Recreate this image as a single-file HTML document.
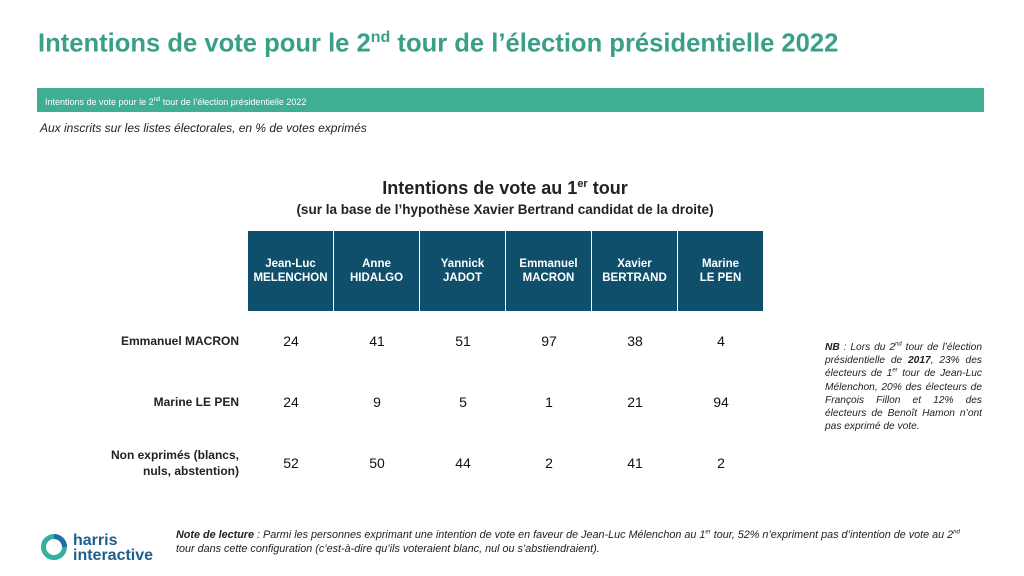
<!DOCTYPE html>
<html><head><meta charset="utf-8">
<style>
body{margin:0;width:1024px;height:576px;background:#fff;font-family:"Liberation Sans",Arial,sans-serif;position:relative;overflow:hidden}
.a{position:absolute}
#title{left:38px;top:29px;font-size:25.6px;font-weight:bold;color:#3a9f88;white-space:nowrap}
#title sup{font-size:16px}
#band{left:37px;top:88px;width:947px;height:24px;background:#3fae92;color:#fff;font-size:9px;line-height:24px;padding-left:8px;box-sizing:border-box}
#band sup{font-size:6px}
#sub{left:40px;top:121px;font-size:12px;font-style:italic;color:#222}
#ct{left:0;width:1010px;top:178px;text-align:center;font-size:18px;font-weight:bold;color:#222}
#ct sup{font-size:11px}
#cs{left:0;width:1010px;top:202px;text-align:center;font-size:13.5px;font-weight:bold;color:#222}
.hd{background:#0f4f6c;color:#fff;font-size:11.5px;font-weight:bold;text-align:center;height:80px;top:231px;display:flex;align-items:center;justify-content:center;line-height:14px;box-sizing:border-box;border-right:1px solid #fff}
.rl{right:785px;text-align:right;font-size:12px;font-weight:bold;color:#222;line-height:16px}
.v{font-size:14px;color:#111;text-align:center;width:86px}
#nb{left:825px;top:341px;width:157px;font-size:10.2px;font-style:italic;color:#222;line-height:13.2px;text-align:justify}
#nb sup{font-size:6px;line-height:0}
#note{left:176px;top:528px;width:792px;font-size:10.8px;font-style:italic;color:#222;line-height:14px}
#note sup{font-size:6px;line-height:0}
#logo{left:40px;top:530px}
</style></head><body>
<div id="title" class="a">Intentions de vote pour le 2<sup>nd</sup> tour de l’élection présidentielle 2022</div>
<div id="band" class="a">Intentions de vote pour le 2<sup>nd</sup> tour de l’élection présidentielle 2022</div>
<div id="sub" class="a">Aux inscrits sur les listes électorales, en % de votes exprimés</div>
<div id="ct" class="a">Intentions de vote au 1<sup>er</sup> tour</div>
<div id="cs" class="a">(sur la base de l’hypothèse Xavier Bertrand candidat de la droite)</div>
<div id="tbl"></div>
<div id="nb" class="a"><b>NB</b> : Lors du 2<sup>nd</sup> tour de l’élection présidentielle de <b>2017</b>, 23% des électeurs de 1<sup>er</sup> tour de Jean-Luc Mélenchon, 20% des électeurs de François Fillon et 12% des électeurs de Benoît Hamon n’ont pas exprimé de vote.</div>
<div id="note" class="a"><b>Note de lecture</b> : Parmi les personnes exprimant une intention de vote en faveur de Jean-Luc Mélenchon au 1<sup>er</sup> tour, 52% n’expriment pas d’intention de vote au 2<sup>nd</sup> tour dans cette configuration (c’est-à-dire qu’ils voteraient blanc, nul ou s’abstiendraient).</div>
<div id="logo" class="a">
<svg width="120" height="34" viewBox="0 0 120 34"><circle cx="14" cy="17" r="10.5" fill="none" stroke="#35b0a0" stroke-width="5"/><path d="M14 6.5 A10.5 10.5 0 0 1 24.5 17" stroke="#1d6fa0" stroke-width="5" fill="none"/><text x="33" y="15" font-family="Liberation Sans" font-weight="bold" font-size="16" fill="#1d5f8c">harris</text><text x="33" y="30" font-family="Liberation Sans" font-weight="bold" font-size="16" fill="#1d5f8c">interactive</text></svg></div>
<script>
const candidates=["Jean-Luc<br>MELENCHON","Anne<br>HIDALGO","Yannick<br>JADOT","Emmanuel<br>MACRON","Xavier<br>BERTRAND","Marine<br>LE PEN"];
const rows=["Emmanuel MACRON","Marine LE PEN","Non exprimés (blancs,<br>nuls, abstention)"];
const macron=[24,41,51,97,38,4];
const lepen=[24,9,5,1,21,94];
const nonexp=[52,50,44,2,41,2];
const series=[macron,lepen,nonexp];
const tbl=document.getElementById('tbl');
const x0=248,cw=86,rowY=[341,402,463];
candidates.forEach((c,i)=>{const d=document.createElement('div');d.className='a hd';d.style.left=(x0+i*cw)+'px';d.style.width=cw+'px';d.innerHTML=c;


tbl.appendChild(d);});
rows.forEach((r,j)=>{const d=document.createElement('div');d.className='a rl';d.innerHTML=r;d.style.top=(rowY[j]-(r.includes('<br>')?16:8))+'px';


tbl.appendChild(d);
series[j].forEach((v,i)=>{const e=document.createElement('div');e.className='a v';e.textContent=v;e.style.left=(x0+i*cw)+'px';e.style.top=(rowY[j]-8)+'px';


tbl.appendChild(e);});});
</script>
</body></html>
